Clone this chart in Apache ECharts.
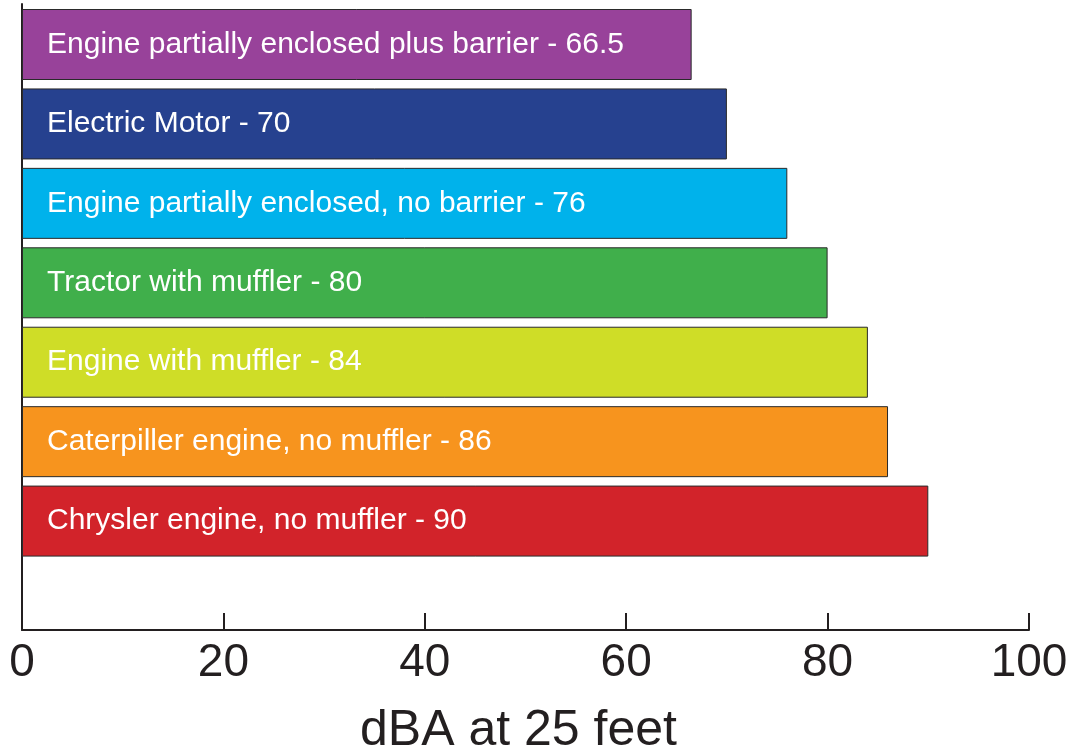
<!DOCTYPE html>
<html>
<head>
<meta charset="utf-8">
<script src="https://cdn.jsdelivr.net/npm/echarts@6/dist/echarts.min.js"></script>
<style>html,body{margin:0;padding:0;background:#fff;}#c{width:1081px;height:753px;}</style>
</head>
<body>
<div id="c"></div>
<script>
const categories = [
  "Engine partially enclosed plus barrier",
  "Electric Motor",
  "Engine partially enclosed, no barrier",
  "Tractor with muffler",
  "Engine with muffler",
  "Caterpiller engine, no muffler",
  "Chrysler engine, no muffler"
];
const valueLabels = ["66.5", "70", "76", "80", "84", "86", "90"];
const values = [66.5, 70, 76, 80, 84, 86, 90];
const colors = ["#98429A", "#26418F", "#00B2EB", "#40AF4B", "#CFDD27", "#F7941E", "#D2232A"];
const xTicks = [0, 20, 40, 60, 80, 100];

const chart = echarts.init(document.getElementById('c'), null, {renderer: 'canvas'});
const font = '"Liberation Sans", Arial, Helvetica, sans-serif';
const ink = '#231F20';

chart.setOption({
  animation: false,
  backgroundColor: '#fff',
  grid: [
    {left: 22, right: 52, top: 4, bottom: 123, containLabel: false, outerBoundsMode: 'none'},
    {left: 22, right: 52, top: 4.8, height: 556, containLabel: false, outerBoundsMode: 'none'}
  ],
  xAxis: [
    {
      gridIndex: 0, type: 'value', min: xTicks[0], max: xTicks[xTicks.length - 1], interval: 20,
      axisLine: {show: true, lineStyle: {color: ink, width: 2}},
      axisTick: {show: true, inside: true, length: 17, lineStyle: {color: ink, width: 2}},
      axisLabel: {fontSize: 46, color: ink, fontFamily: font, margin: 10},
      splitLine: {show: false},
      name: 'dBA at 25 feet', nameLocation: 'middle', nameGap: 76,
      nameTextStyle: {fontSize: 50, color: ink, fontFamily: font, padding: [0, 14, 0, 0]}
    },
    {
      gridIndex: 1, type: 'value', min: 0, max: 100, show: false
    }
  ],
  yAxis: [
    {
      gridIndex: 0, type: 'value', min: 0, max: 1,
      axisLine: {show: true, lineStyle: {color: ink, width: 2}},
      axisTick: {show: false}, axisLabel: {show: false}, splitLine: {show: false}
    },
    {
      gridIndex: 1, type: 'category', inverse: true, data: categories, show: false
    }
  ],
  series: [{
    type: 'bar',
    xAxisIndex: 1, yAxisIndex: 1,
    barWidth: 71,
    data: values.map((v, i) => ({
      value: v,
      itemStyle: {color: colors[i], borderColor: '#2a2a2a', borderWidth: 1}
    })),
    label: {
      show: true, position: 'insideLeft', distance: 25, offset: [0, 0],
      color: '#fff', fontSize: 30, fontFamily: font,
      formatter: p => categories[p.dataIndex] + ' - ' + valueLabels[p.dataIndex]
    }
  }]
});
</script>
</body>
</html>
